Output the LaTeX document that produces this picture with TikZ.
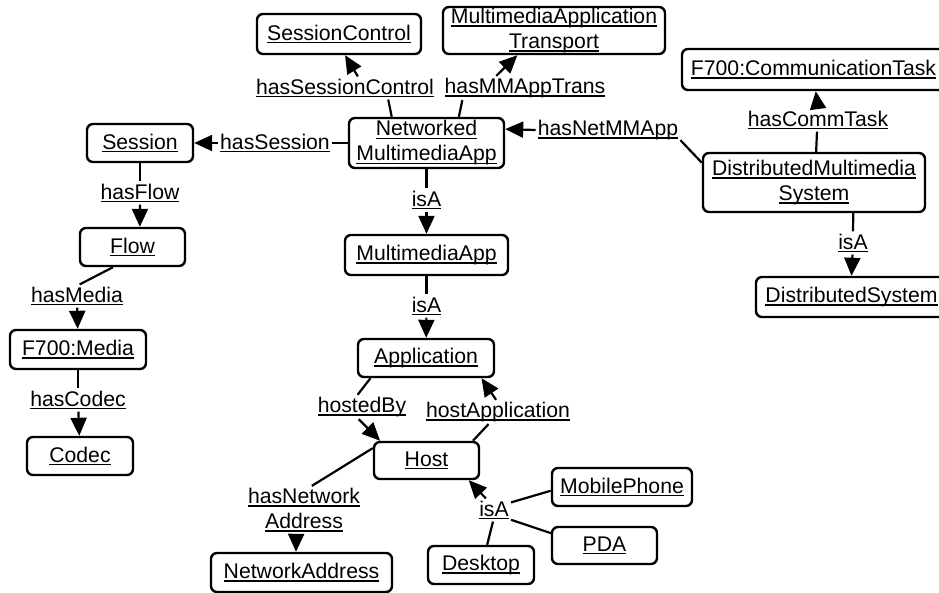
\documentclass[tikz,border=0pt]{standalone}
\usepackage{fontspec}
\setmainfont{Liberation Sans}
\usetikzlibrary{arrows.meta}

\newcommand{\ulbl}[1]{\setbox0\hbox{#1}\rlap{\rule[-1.6pt]{\wd0}{0.75pt}}\box0}

\tikzset{
  cls/.style={draw,line width=1.2pt,rounded corners=3pt,inner sep=0pt,align=center,
    font=\fontsize{10.6}{12.5}\selectfont},
  rel/.style={inner sep=0.6pt,align=center,font=\fontsize{10.6}{12.5}\selectfont},
}

\begin{document}
\begin{tikzpicture}[x=0.5pt,y=-0.5pt,line width=1.1pt]
      \useasboundingbox (0,0) rectangle (939,593);
      \draw
        (339,34) node[cls,minimum width=82pt,minimum height=20pt] (sc){\ulbl{SessionControl}}
        (554,30.5) node[cls,minimum width=111pt,minimum height=23.5pt] (mat){\ulbl{MultimediaApplication}\\\ulbl{Transport}}
        (813.5,69.5) node[cls,minimum width=131.5pt,minimum height=20.5pt] (ct){\ulbl{F700:CommunicationTask}}
        (140,143) node[cls,minimum width=53pt,minimum height=19pt] (session){\ulbl{Session}}
        (426.5,143) node[cls,minimum width=77.5pt,minimum height=25pt] (nma){\ulbl{Networked}\\\ulbl{MultimediaApp}}
        (814,182.5) node[cls,minimum width=111pt,minimum height=29.5pt] (dms){\ulbl{DistributedMultimedia}\\\ulbl{System}}
        (132.5,247) node[cls,minimum width=52.5pt,minimum height=19pt] (flow){\ulbl{Flow}}
        (426.5,255) node[cls,minimum width=81.5pt,minimum height=20pt] (mma){\ulbl{MultimediaApp}}
        (851.5,297) node[cls,minimum width=95.5pt,minimum height=20pt] (dsys){\ulbl{DistributedSystem}}
        (78,349.5) node[cls,minimum width=68pt,minimum height=19.5pt] (media){\ulbl{F700:Media}}
        (426,358) node[cls,minimum width=68pt,minimum height=19pt] (app){\ulbl{Application}}
        (80,456) node[cls,minimum width=53pt,minimum height=19pt] (codec){\ulbl{Codec}}
        (426.5,460.5) node[cls,minimum width=52.5pt,minimum height=18.5pt] (host){\ulbl{Host}}
        (622,487) node[cls,minimum width=70pt,minimum height=19pt] (mp){\ulbl{MobilePhone}}
        (604.5,545.5) node[cls,minimum width=52.5pt,minimum height=18.5pt] (pda){\ulbl{PDA}}
        (481,565) node[cls,minimum width=53pt,minimum height=19pt] (dt){\ulbl{Desktop}}
        (301.5,572.5) node[cls,minimum width=90.5pt,minimum height=19.5pt] (na){\ulbl{NetworkAddress}};
      \draw
        (345,88) node[rel] (lsc){\ulbl{hasSessionControl}}
        (525,88) node[rel] (lmat){\ulbl{hasMMAppTrans}}
        (608,130) node[rel] (lnet){\ulbl{hasNetMMApp}}
        (275,143) node[rel] (lsess){\ulbl{hasSession}}
        (818,120) node[rel] (lct){\ulbl{hasCommTask}}
        (426.5,200) node[rel] (lisa1){\ulbl{isA}}
        (140,193) node[rel] (lflow){\ulbl{hasFlow}}
        (853,243) node[rel] (lisa4){\ulbl{isA}}
        (77,296) node[rel] (lmedia){\ulbl{hasMedia}}
        (426.5,306) node[rel] (lisa2){\ulbl{isA}}
        (78,400) node[rel] (lcodec){\ulbl{hasCodec}}
        (362,407) node[rel] (lhb){\ulbl{hostedBy}}
        (498,412) node[rel] (lha){\ulbl{hostApplication}}
        (304,510) node[rel] (lhna){\ulbl{hasNetwork}\\\ulbl{Address}}
        (494,510) node[rel] (lisa3){\ulbl{isA}};
      \begin{scope}[-]
        \draw (nma) to (lsess);
        \draw (nma.143) to (lsc.-15);
        \draw (nma.39) to (lmat.191);
        \draw (dms.170) to (lnet.-8);
        \draw (dms.86) to (lct.-95);
        \draw (dms.-38) to (lisa4.north);
        \draw (nma) to (lisa1);
        \draw (session) to (lflow);
        \draw (flow.-134) to (lmedia.77);
        \draw (mma) to (lisa2);
        \draw (media) to (lcodec);
        \draw (app.200) to (lhb.110);
        \draw (host.23) to (lha.-128);
        \draw (host.167) to (lhna.72);
        \draw (mp.183) to (lisa3.24);
        \draw (pda.167) to (lisa3.-30);
        \draw (dt.73) to (lisa3.-95);
      \end{scope}
      \begin{scope}[-{Triangle[length=9pt,width=8pt]}]
        \draw (lsess) to (session);
        \draw (lsc.42) to (sc.-74);
        \draw (lmat.157) to (mat.214);
        \draw (lnet.west) to (nma.10);
        \draw (lct.north) to (ct.-84);
        \draw (lisa4) to (dsys.north);
        \draw (lisa1) to (mma);
        \draw (lflow) to (flow.70);
        \draw (lmedia) to (media);
        \draw (lisa2) to (app);
        \draw (lcodec) to (codec);
        \draw (lhb.-105) to (host.157);
        \draw (lha.99) to (app.-20);
        \draw (lhna.-108) to (na.105);
        \draw (lisa3.125) to (host.-25);
      \end{scope}
    \end{tikzpicture}
\end{document}
